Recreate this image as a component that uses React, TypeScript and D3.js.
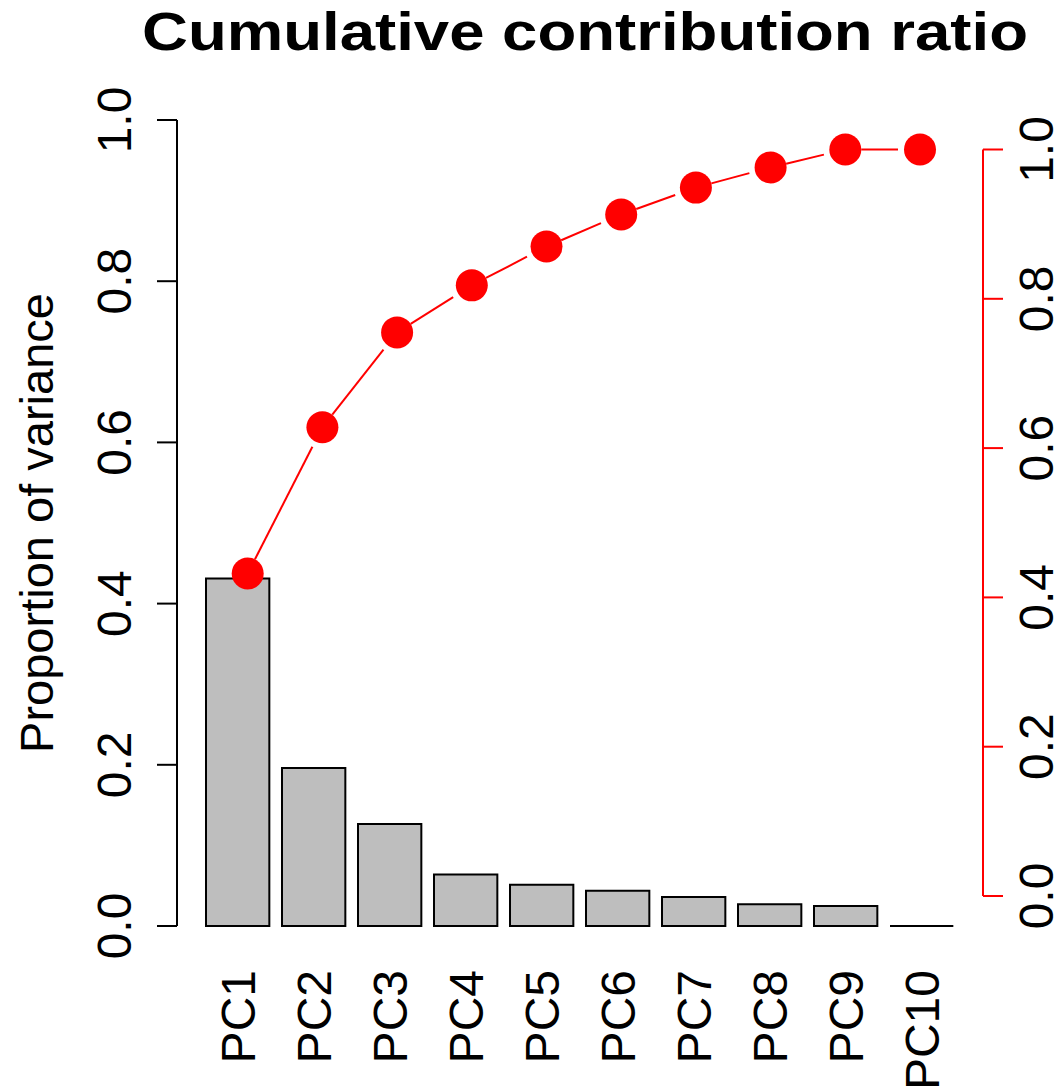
import React from "react";
import * as d3 from "d3";

// Principal components
const components = ["PC1", "PC2", "PC3", "PC4", "PC5", "PC6", "PC7", "PC8", "PC9", "PC10"];
// Proportion of variance explained by each component (bars, left axis)
const proportion = [0.431, 0.196, 0.1265, 0.064, 0.0512, 0.0438, 0.036, 0.027, 0.0248, 0.0];
// Cumulative contribution ratio (red points, right axis)
const cumulative = [0.432, 0.628, 0.755, 0.818, 0.87, 0.913, 0.949, 0.976, 1.0, 1.0];
// Axis ticks shared by both vertical axes
const tickValues = [0, 0.2, 0.4, 0.6, 0.8, 1.0];
const tickLabels = ["0.0", "0.2", "0.4", "0.6", "0.8", "1.0"];

const W = 1063;
const H = 1089;
const FONT = "'Liberation Sans', Arial, Helvetica, sans-serif";

export default function App() {
  const yLeft = d3.scaleLinear().domain([0, 1]).range([926, 120]);
  const yRight = d3.scaleLinear().domain([0, 1]).range([896, 149.5]);
  const xBar = d3
    .scaleBand<string>()
    .domain(components)
    .range([199.67, 959.67])
    .paddingInner(1 / 6)
    .paddingOuter(1 / 12);
  const xPt = d3.scalePoint<string>().domain(components).range([247.7, 920]);

  const axisLeftX = 177;
  const axisRightX = 983;
  const tickLen = 20;
  const r = 16;

  // bar outlines as closed paths so a zero-height bar still shows its outline
  const barPath = (c: string, v: number) => {
    const p = d3.path();
    const x0 = xBar(c)!;
    const x1 = x0 + xBar.bandwidth();
    const y0 = yLeft(0);
    const y1 = yLeft(v);
    p.moveTo(x0, y0);
    p.lineTo(x0, y1);
    p.lineTo(x1, y1);
    p.lineTo(x1, y0);
    p.closePath();
    return p.toString();
  };

  // line segments between consecutive points, with gaps round the markers
  const segs: { x1: number; y1: number; x2: number; y2: number }[] = [];
  for (let i = 0; i < components.length - 1; i++) {
    const ax = xPt(components[i])!;
    const ay = yRight(cumulative[i]);
    const bx = xPt(components[i + 1])!;
    const by = yRight(cumulative[i + 1]);
    const len = Math.hypot(bx - ax, by - ay);
    const ux = (bx - ax) / len;
    const uy = (by - ay) / len;
    const g0 = 16;
    const g1 = 22;
    if (len > g0 + g1) {
      segs.push({ x1: ax + ux * g0, y1: ay + uy * g0, x2: bx - ux * g1, y2: by - uy * g1 });
    }
  }

  return (
    <svg
      width={W}
      height={H}
      viewBox={`0 0 ${W} ${H}`}
      style={{ position: "absolute", left: 0, top: 0, background: "#fff" }}
      fontFamily={FONT}
    >
      <rect x={0} y={0} width={W} height={H} fill="#fff" />

      {/* title */}
      <text
        x={142}
        y={50}
        fontSize={54}
        fontWeight="bold"
        textLength={886}
        lengthAdjust="spacingAndGlyphs"
        fill="#000"
      >
        Cumulative contribution ratio
      </text>

      {/* bars */}
      {components.map((c, i) => (
        <path
          key={c}
          d={barPath(c, proportion[i])}
          fill="#bebebe"
          stroke="#000"
          strokeWidth={2}
        />
      ))}

      {/* left axis */}
      <line x1={axisLeftX} x2={axisLeftX} y1={yLeft(0)} y2={yLeft(1)} stroke="#000" strokeWidth={2} />
      {tickValues.map((v, i) => (
        <g key={"l" + i}>
          <line
            x1={axisLeftX - tickLen}
            x2={axisLeftX}
            y1={yLeft(v)}
            y2={yLeft(v)}
            stroke="#000"
            strokeWidth={2}
          />
          <text
            transform={`translate(131,${yLeft(v)}) rotate(-90)`}
            textAnchor="middle"
            fontSize={48}
            fill="#000"
          >
            {tickLabels[i]}
          </text>
        </g>
      ))}
      <text
        transform={`translate(53,${yLeft(0.5)}) rotate(-90)`}
        textAnchor="middle"
        fontSize={47}
        fill="#000"
      >
        Proportion of variance
      </text>

      {/* category labels */}
      {components.map((c) => (
        <text
          key={"x" + c}
          transform={`translate(${xBar(c)! + xBar.bandwidth() / 2 + 17},970) rotate(-90)`}
          textAnchor="end"
          fontSize={48}
          fill="#000"
        >
          {c}
        </text>
      ))}

      {/* cumulative line and points */}
      {segs.map((s, i) => (
        <line key={"s" + i} x1={s.x1} y1={s.y1} x2={s.x2} y2={s.y2} stroke="#ff0000" strokeWidth={2} />
      ))}
      {components.map((c, i) => (
        <circle key={"p" + c} cx={xPt(c)!} cy={yRight(cumulative[i])} r={r} fill="#ff0000" />
      ))}

      {/* right axis */}
      <line x1={axisRightX} x2={axisRightX} y1={yRight(0)} y2={yRight(1)} stroke="#ff0000" strokeWidth={2} />
      {tickValues.map((v, i) => (
        <g key={"r" + i}>
          <line
            x1={axisRightX}
            x2={axisRightX + tickLen}
            y1={yRight(v)}
            y2={yRight(v)}
            stroke="#ff0000"
            strokeWidth={2}
          />
          <text
            transform={`translate(1053,${yRight(v)}) rotate(-90)`}
            textAnchor="middle"
            fontSize={48}
            fill="#000"
          >
            {tickLabels[i]}
          </text>
        </g>
      ))}
    </svg>
  );
}
